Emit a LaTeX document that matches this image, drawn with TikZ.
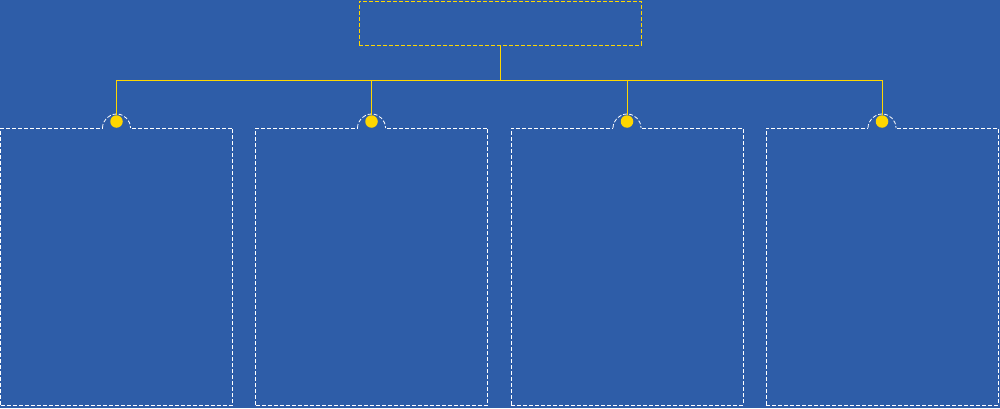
\documentclass[tikz,border=0pt]{standalone}
\usetikzlibrary{positioning}
\definecolor{bgblue}{RGB}{46,93,168}
\definecolor{linkyellow}{RGB}{255,215,0}

\begin{document}
\begin{tikzpicture}[x=1pt,y=1pt,
  rootbox/.style={draw=linkyellow,dash pattern=on 4pt off 2pt,line width=0.9pt,minimum width=282pt,minimum height=44pt,inner sep=0pt},
  panel/.style={draw=white,dash pattern=on 4pt off 2pt,line width=0.8pt,minimum width=232pt,minimum height=277pt,inner sep=0pt},
  ring/.style={draw=white,dash pattern=on 4pt off 2pt,line width=0.8pt},
  dot/.style={circle,fill=linkyellow,minimum size=12.5pt,inner sep=0pt},
  link/.style={draw=linkyellow,line width=0.9pt}]
\fill[bgblue] (0,0) rectangle (1000,408);
\useasboundingbox (0,0) rectangle (1000,408);
\node[rootbox] (root) at (500,385) {};
\coordinate (bar) at (500,328);
\foreach \i/\cx in {1/116.5,2/371.5,3/627,4/882}{
  \node[panel] (panel\i) at (\cx,141.5) {};
  \fill[bgblue] (\cx-14,277) rectangle (\cx+14,284);
  \draw[ring] (\cx-14,280) arc[start angle=180,end angle=0,radius=14];
  \node[dot] (dot\i) at (\cx,286.5) {};
}
\draw[link] (root.south) -- (bar);
\foreach \i in {1,...,4} \draw[link] (bar) -| (dot\i.north);
\end{tikzpicture}
\end{document}
